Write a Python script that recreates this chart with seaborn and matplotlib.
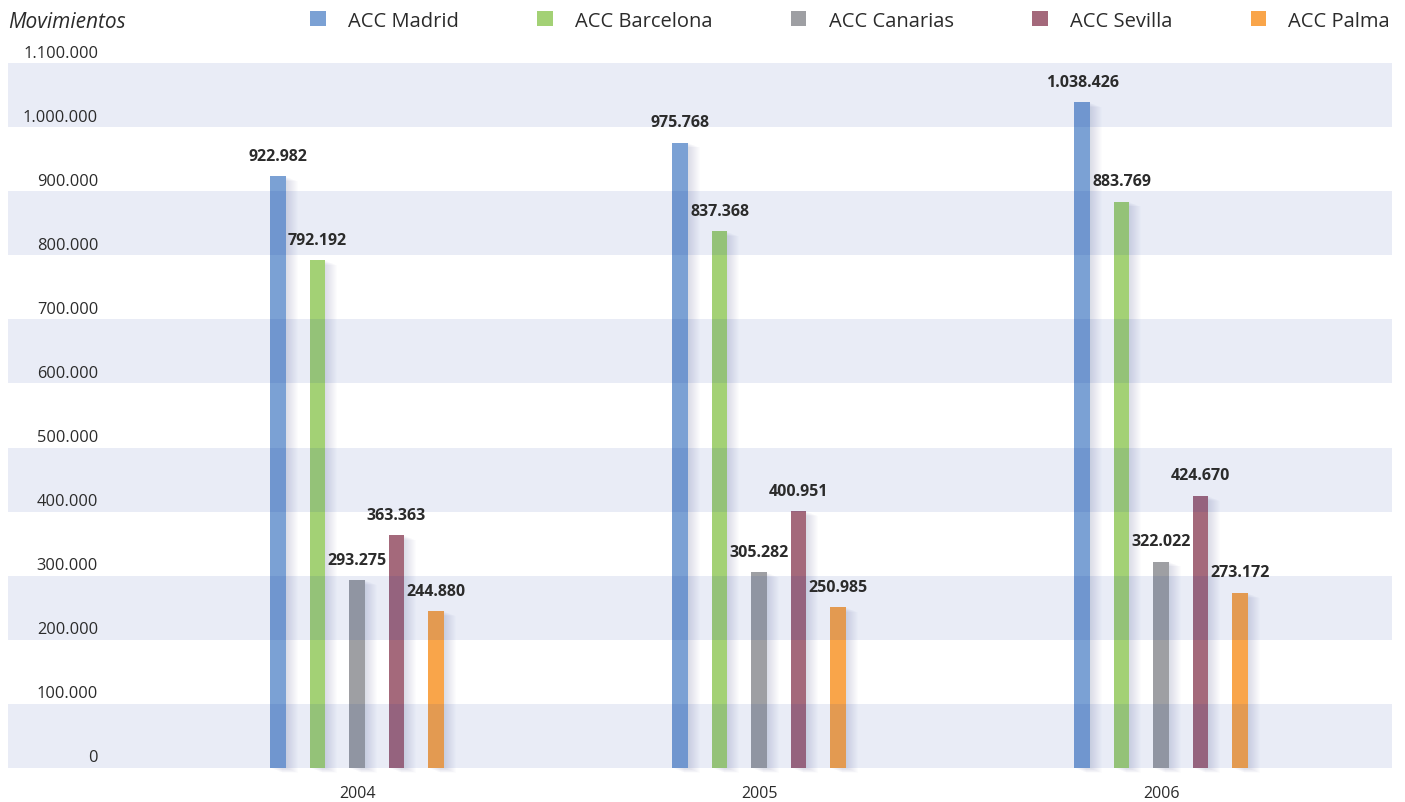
import numpy as np
import pandas as pd
import seaborn as sns
import matplotlib.pyplot as plt
from matplotlib.patches import Rectangle
from matplotlib.transforms import ScaledTranslation

# Values
years = ["2004", "2005", "2006"]
centres = ["ACC Madrid", "ACC Barcelona", "ACC Canarias", "ACC Sevilla", "ACC Palma"]
madrid = [922982, 975768, 1038426]
barcelona = [792192, 837368, 883769]
canarias = [293275, 305282, 322022]
sevilla = [363363, 400951, 424670]
palma = [244880, 250985, 273172]
colors = ["#7ba1d4", "#a3d175", "#9e9fa3", "#a4697b", "#f9a54a"]

yticks = np.arange(0, 1_100_001, 100_000)

series = [madrid, barcelona, canarias, sevilla, palma]
rows = []
for name, vals in zip(centres, series):
    for y, v in zip(years, vals):
        rows.append({"year": y, "centre": name, "movs": v})
df = pd.DataFrame(rows)


def fmt(v):
    return f"{v:,.0f}".replace(",", ".")


sns.set_theme(style="white")
plt.rcParams["font.family"] = ["Open Sans", "DejaVu Sans"]
text_col = "#2b2b2b"

fig = plt.figure(figsize=(14.05, 8.03), dpi=100)
ax = fig.add_axes([8 / 1405, 34 / 803, 1384 / 1405, 705 / 803])

sns.barplot(data=df, x="year", y="movs", hue="centre", hue_order=centres,
            palette=colors, saturation=1, width=0.49, gap=0.6,
            errorbar=None, linewidth=0, ax=ax)

leg = ax.get_legend()
handles = leg.legend_handles
labels = [t.get_text() for t in leg.get_texts()]
leg.remove()

# soft shadow to the right of each bar
for p in list(ax.patches):
    for d in range(1, 13):
        off = ScaledTranslation(d / 100, -(d * 0.4) / 100, fig.dpi_scale_trans)
        sh = Rectangle(p.get_xy(), p.get_width(), p.get_height(),
                       transform=ax.transData + off, facecolor="#2b3b66",
                       alpha=0.012, lw=0, zorder=0.9, clip_on=False)
        ax.add_patch(sh)

# data labels
for cont in ax.containers:
    ax.bar_label(cont, labels=[fmt(v) for v in cont.datavalues], padding=9,
                 fontsize=11.5, fontweight="bold", color=text_col, zorder=6)

# alternating bands (drawn over the bars, semi transparent)
for lo in yticks[0::2]:
    ax.axhspan(lo, lo + 100_000, color=(0, 44 / 255, 161 / 255),
               alpha=0.085, lw=0, zorder=3)

ax.set_ylim(0, 1_100_000)
ax.set_xlim(-349 / 402, 2 + 231 / 402)
ax.set_yticks(yticks)
ax.set_yticklabels([])
ax.tick_params(axis="y", length=0)
ax.tick_params(axis="x", length=0, pad=12, labelsize=11.5, colors=text_col)
ax.set_xlabel("")
ax.set_ylabel("")
for s in ax.spines.values():
    s.set_visible(False)

# y labels sit inside the plot, just above each line
ylab_off = ax.get_yaxis_transform() + ScaledTranslation(0, 2.5 / 100, fig.dpi_scale_trans)
for v in yticks:
    ax.text(90 / 1384, v, fmt(v), transform=ylab_off, ha="right", va="bottom",
            fontsize=11.8, color=text_col, zorder=6)

fig.text(8 / 1405, 1 - 23 / 803, "Movimientos", ha="left", va="center",
         fontsize=15, style="italic", color=text_col)

fig.legend(handles, labels, ncol=5, loc="center right",
           bbox_to_anchor=(1390 / 1405, 1 - 22 / 803), frameon=False,
           fontsize=14.5, handlelength=0.77, handleheight=0.77,
           handletextpad=1.1, columnspacing=3.9, borderpad=0,
           borderaxespad=0, labelcolor=text_col)

plt.savefig("out.png", dpi=100)
